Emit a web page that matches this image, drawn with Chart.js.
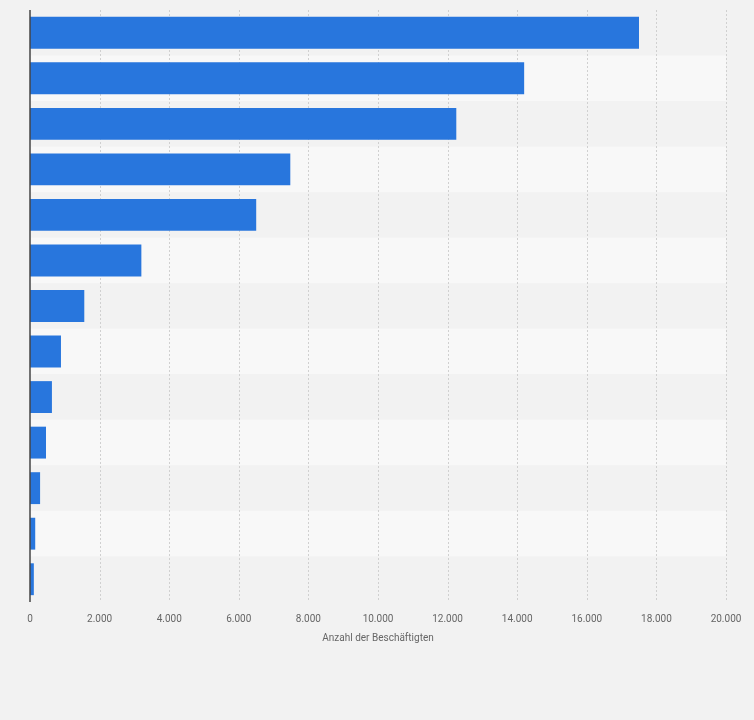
<!DOCTYPE html>
<html>
<head>
<meta charset="utf-8">
<script src="https://cdn.jsdelivr.net/npm/chart.js@4"></script>
<style>
  html, body { margin: 0; background: #f2f2f2; }
  #wrap { width: 754px; height: 720px; position: relative; }
</style>
</head>
<body>
<div id="wrap"><canvas id="chart" width="754" height="720"></canvas></div>
<script>
// categories are not labelled in the picture
const categories = ["1", "2", "3", "4", "5", "6", "7", "8", "9", "10", "11", "12", "13"];
const employees = [17500, 14200, 12250, 7480, 6500, 3200, 1560, 890, 630, 460, 290, 150, 110];
const xTicks = [0, 2000, 4000, 6000, 8000, 10000, 12000, 14000, 16000, 18000, 20000];

// alternating row bands behind the bars
const bands = {
  id: "bands",
  beforeDatasetsDraw(chart) {
    const { ctx, chartArea: a } = chart;
    const step = (a.bottom - a.top) / categories.length;
    ctx.save();
    categories.forEach((c, i) => {
      ctx.fillStyle = i % 2 ? "#f8f8f8" : "#f2f2f2";
      ctx.fillRect(a.left, a.top + i * step, a.right - a.left, step);
    });
    // dotted verticals
    ctx.strokeStyle = "#d0d0d0";
    ctx.setLineDash([2, 2]);
    xTicks.slice(1).forEach((t) => {
      const x = Math.round(chart.scales.x.getPixelForValue(t)) + 0.5;
      ctx.beginPath();
      ctx.moveTo(x, a.top);
      ctx.lineTo(x, a.bottom);
      ctx.stroke();
    });
    ctx.restore();
  },
  afterDatasetsDraw(chart) {
    const { ctx, chartArea: a } = chart;
    ctx.save();
    ctx.strokeStyle = "#444";
    ctx.lineWidth = 1.5;
    ctx.beginPath();
    ctx.moveTo(a.left, a.top);
    ctx.lineTo(a.left, a.bottom);
    ctx.stroke();
    ctx.restore();
  },
};

new Chart(document.getElementById("chart"), {
  type: "bar",
  data: {
    labels: categories,
    datasets: [
      {
        data: employees,
        backgroundColor: "#2876dd",
        categoryPercentage: 0.7,
        barPercentage: 1,
      },
    ],
  },
  options: {
    indexAxis: "y",
    responsive: false,
    animation: false,
    layout: { padding: { top: 10, right: 28, bottom: 72, left: 0 } },
    plugins: { legend: { display: false }, tooltip: { enabled: false } },
    scales: {
      x: {
        min: 0,
        max: 20000,
        afterBuildTicks: (s) => { s.ticks = xTicks.map((v) => ({ value: v })); },
        grid: { display: false },
        border: { display: false },
        ticks: {
          color: "#666",
          font: { family: "Roboto", size: 10 },
          maxRotation: 0,
          callback: (v) => v.toLocaleString("de-DE"),
        },
        title: {
          display: true,
          text: "Anzahl der Beschäftigten",
          color: "#666",
          font: { family: "Roboto", size: 10 },
        },
      },
      y: {
        grid: { display: false },
        border: { display: false },
        ticks: { display: false },
        afterFit: (s) => { s.width = 30; },
      },
    },
  },
  plugins: [bands],
});
</script>
</body>
</html>
